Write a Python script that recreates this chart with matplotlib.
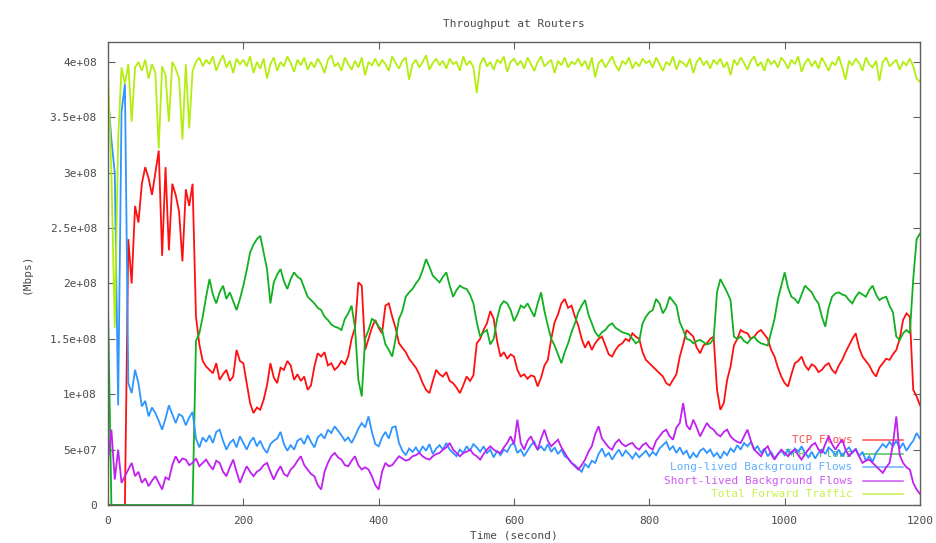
import numpy as np
import matplotlib
matplotlib.use("Agg")
import matplotlib.pyplot as plt

# Sampling grid: one reading every 5 seconds, 0..1200 s
time_s = np.arange(0, 1201, 5)

# Throughput series, in units of 1e6 (scaled to absolute values when plotted)
tcp_flows = [
    0, 0, 0, 0, 0, 0, 240, 200, 270, 255, 290, 305, 295, 280, 300, 320, 225, 305, 230, 290,
    280, 265, 220, 285, 270, 290, 170, 145, 130, 125, 122, 119, 128, 113, 118, 122, 112, 116, 140, 130,
    128, 110, 92, 83, 88, 86, 95, 108, 128, 115, 110, 124, 122, 130, 126, 113, 118, 112, 116, 104,
    108, 125, 137, 134, 138, 126, 128, 122, 125, 130, 127, 134, 150, 160, 201, 198, 140, 150, 160, 167,
    160, 155, 180, 182, 170, 160, 146, 142, 138, 132, 128, 124, 118, 110, 104, 101, 112, 122, 118, 116,
    120, 112, 110, 106, 101, 108, 116, 112, 117, 146, 150, 158, 164, 175, 168, 148, 134, 138, 132, 136,
    134, 122, 116, 118, 114, 117, 116, 107, 115, 126, 131, 150, 165, 172, 182, 186, 178, 180, 170, 162,
    150, 142, 148, 140, 146, 150, 152, 144, 136, 134, 140, 144, 146, 150, 148, 155, 152, 150, 138, 131,
    128, 125, 122, 119, 116, 110, 108, 113, 118, 134, 145, 158, 155, 152, 142, 137, 144, 146, 150, 152,
    104, 86, 92, 113, 125, 144, 150, 158, 156, 155, 150, 152, 156, 158, 154, 150, 140, 134, 124, 116,
    110, 107, 118, 128, 130, 134, 126, 122, 127, 125, 120, 122, 126, 128, 122, 119, 126, 131, 138, 144,
    150, 155, 142, 134, 130, 126, 120, 116, 124, 128, 132, 131, 136, 140, 150, 167, 173, 170, 104, 98,
    90,
]

tfrc_flows = [
    180, 0, 0, 0, 0, 0, 0, 0, 0, 0, 0, 0, 0, 0, 0, 0, 0, 0, 0, 0,
    0, 0, 0, 0, 0, 0, 148, 155, 170, 188, 204, 190, 182, 192, 198, 186, 192, 184, 176, 186,
    198, 212, 228, 235, 240, 243, 228, 213, 182, 201, 208, 213, 202, 195, 204, 210, 206, 204, 196, 188,
    185, 182, 178, 176, 170, 167, 163, 161, 160, 158, 168, 173, 180, 160, 113, 98, 150, 158, 168, 166,
    161, 158, 145, 140, 134, 150, 168, 175, 188, 192, 195, 200, 204, 212, 222, 215, 207, 204, 201, 206,
    210, 198, 188, 194, 198, 196, 195, 190, 182, 165, 152, 156, 158, 145, 150, 168, 180, 184, 182, 176,
    166, 172, 180, 178, 182, 176, 170, 182, 192, 175, 162, 150, 144, 136, 128, 138, 146, 156, 164, 174,
    180, 185, 172, 164, 156, 152, 156, 158, 162, 164, 160, 158, 156, 155, 154, 150, 146, 148, 164, 170,
    174, 176, 186, 182, 173, 178, 188, 184, 180, 165, 158, 150, 149, 146, 148, 149, 147, 145, 146, 150,
    192, 204, 198, 192, 185, 152, 150, 152, 148, 146, 150, 152, 148, 146, 145, 144, 156, 168, 186, 198,
    210, 196, 188, 186, 182, 190, 198, 195, 192, 186, 182, 170, 161, 178, 188, 191, 192, 190, 189, 185,
    182, 188, 192, 190, 188, 194, 198, 190, 185, 187, 188, 180, 174, 152, 149, 155, 158, 155, 204, 240,
    245,
]

long_lived_bg = [
    370, 330, 300, 90, 355, 380, 110, 101, 122, 110, 89, 94, 80, 88, 83, 76, 68, 78, 90, 82,
    74, 82, 80, 72, 79, 84, 60, 52, 61, 57, 63, 56, 66, 68, 58, 50, 56, 59, 52, 62,
    56, 50, 57, 61, 53, 58, 51, 47, 55, 58, 60, 66, 55, 49, 54, 50, 58, 60, 55, 63,
    57, 52, 61, 64, 60, 68, 65, 71, 67, 63, 58, 61, 56, 62, 69, 74, 70, 80, 66, 55,
    53, 61, 66, 60, 70, 71, 56, 49, 45, 51, 48, 52, 47, 53, 49, 55, 46, 51, 54, 50,
    56, 50, 47, 44, 50, 47, 53, 49, 55, 52, 48, 53, 47, 50, 43, 49, 45, 50, 48, 54,
    56, 47, 50, 44, 49, 54, 57, 50, 53, 49, 55, 48, 52, 46, 50, 44, 42, 38, 36, 33,
    30, 37, 34, 40, 38, 46, 51, 44, 47, 41, 46, 50, 44, 49, 46, 42, 47, 43, 46, 49,
    44, 48, 45, 51, 54, 57, 50, 53, 47, 52, 46, 49, 42, 47, 43, 49, 51, 47, 50, 44,
    47, 42, 48, 45, 51, 48, 54, 50, 56, 53, 57, 50, 53, 47, 51, 44, 48, 42, 46, 49,
    45, 50, 46, 51, 48, 53, 47, 43, 48, 42, 47, 50, 46, 52, 49, 45, 50, 44, 49, 52,
    47, 51, 44, 48, 40, 44, 39, 47, 51, 55, 52, 57, 53, 58, 51, 56, 49, 54, 58, 65,
    60,
]

short_lived_bg = [
    40, 68, 23, 50, 20, 26, 32, 38, 26, 30, 20, 24, 17, 22, 26, 20, 14, 25, 23, 36,
    44, 38, 42, 41, 36, 38, 42, 35, 38, 41, 36, 32, 40, 38, 30, 26, 34, 41, 30, 20,
    28, 35, 30, 26, 30, 32, 36, 38, 30, 23, 30, 35, 28, 26, 32, 35, 40, 44, 36, 32,
    28, 26, 18, 14, 30, 38, 44, 47, 43, 41, 36, 35, 40, 44, 36, 32, 34, 32, 26, 18,
    14, 30, 38, 35, 36, 40, 44, 42, 40, 41, 44, 45, 47, 44, 42, 41, 44, 46, 47, 50,
    52, 56, 50, 47, 44, 47, 48, 50, 46, 44, 41, 46, 50, 53, 50, 48, 47, 52, 56, 62,
    55, 77, 56, 50, 58, 62, 55, 50, 60, 68, 58, 53, 56, 59, 52, 47, 42, 38, 35, 32,
    36, 41, 48, 53, 64, 71, 60, 56, 52, 50, 56, 59, 55, 53, 55, 56, 52, 50, 54, 56,
    52, 50, 58, 62, 66, 68, 62, 59, 70, 74, 92, 72, 68, 77, 70, 62, 68, 74, 70, 68,
    64, 62, 66, 68, 62, 59, 57, 56, 62, 68, 58, 50, 47, 44, 50, 53, 46, 41, 46, 50,
    47, 44, 48, 50, 45, 41, 46, 50, 54, 56, 50, 47, 55, 62, 55, 50, 55, 59, 50, 44,
    48, 50, 44, 38, 40, 41, 38, 35, 32, 29, 34, 38, 55, 80, 45, 38, 34, 32, 20, 14,
    10,
]

total_forward = [
    390, 300, 160, 330, 395, 380, 398, 346, 395, 400, 392, 402, 385, 398, 390, 322, 396, 388, 346, 400,
    394, 385, 330, 398, 340, 392, 400, 404, 396, 402, 398, 405, 392, 400, 406, 395, 401, 390, 403, 398,
    402, 396, 405, 390, 400, 394, 403, 385, 398, 404, 392, 400, 396, 405, 399, 391, 402, 397, 404, 393,
    400, 395, 403, 398, 390, 402, 406, 396, 399, 392, 404, 398, 393, 401, 395, 404, 388, 400, 397, 403,
    396, 402, 398, 392, 405, 399, 394, 401, 404, 384, 398, 402, 395, 400, 406, 393, 399, 403, 397, 401,
    394, 403, 398, 400, 392, 405, 397, 401, 395, 372, 398, 404, 396, 400, 393, 402, 399, 405, 391, 400,
    403, 397, 401, 394, 404, 398, 392, 400, 405, 396, 399, 402, 390, 401, 397, 404, 395, 400, 398, 403,
    396, 401, 393, 404, 386, 399, 402, 395, 400, 405, 397, 392, 401, 398, 404, 394, 400, 396, 403, 399,
    401, 395, 404, 398, 392, 400, 397, 405, 393, 401, 399, 396, 403, 390, 400, 404, 397, 401, 394, 402,
    398, 403, 395, 400, 388, 402, 397, 404, 399, 393, 401, 405, 396, 400, 392, 403, 398, 401, 395, 404,
    400, 394, 402, 398, 405, 391, 399, 403, 396, 401, 394, 404, 398, 392, 400, 397, 405, 395, 384, 401,
    397, 403, 399, 392, 404, 398, 395, 401, 383, 400, 404, 396, 399, 402, 393, 400, 397, 403, 396, 385,
    382,
]

series_labels = [
    "TCP Flows",
    "TFRC Flows",
    "Long-lived Background Flows",
    "Short-lived Background Flows",
    "Total Forward Traffic",
]
series_values = [tcp_flows, tfrc_flows, long_lived_bg, short_lived_bg, total_forward]
series_colors = ["#ff1010", "#10b020", "#2f95ff", "#c020f0", "#b4ee10"]

y_ticks = [0, 5e7, 1e8, 1.5e8, 2e8, 2.5e8, 3e8, 3.5e8, 4e8]
y_tick_labels = ["0", "5e+07", "1e+08", "1.5e+08", "2e+08", "2.5e+08", "3e+08", "3.5e+08", "4e+08"]
x_ticks = [0, 200, 400, 600, 800, 1000, 1200]
x_tick_labels = ["0", "200", "400", "600", "800", "1000", "1200"]

TEXT_FONT = "DejaVu Sans Mono"
TEXT_COLOR = "#4a4a4a"
FRAME_COLOR = "#606060"

fig = plt.figure(figsize=(9.37, 5.43), dpi=100)
ax = fig.add_axes([108 / 937, 1 - 505 / 543, 812 / 937, 463 / 543])

for values, color in zip(series_values, series_colors):
    ax.plot(time_s, np.asarray(values, dtype=float) * 1e6, color=color,
            linewidth=1.3, zorder=2, solid_joinstyle="miter")

ax.set_xlim(0, 1200)
ax.set_ylim(0, 4.18e8)
ax.set_xticks(x_ticks)
ax.set_xticklabels(x_tick_labels)
ax.set_yticks(y_ticks)
ax.set_yticklabels(y_tick_labels)

ax.tick_params(direction="in", length=5, width=0.8, color=FRAME_COLOR,
               top=True, right=True, labelsize=8, labelcolor=TEXT_COLOR, pad=8)
for lab in ax.get_xticklabels() + ax.get_yticklabels():
    lab.set_fontfamily(TEXT_FONT)
for spine in ax.spines.values():
    spine.set_color(FRAME_COLOR)
    spine.set_linewidth(1.0)

ax.set_title("Throughput at Routers", fontfamily=TEXT_FONT, fontsize=8,
             color=TEXT_COLOR, pad=11)
ax.set_xlabel("Time (second)", fontfamily=TEXT_FONT, fontsize=8,
              color=TEXT_COLOR, labelpad=3)
ax.set_ylabel("(Mbps)", fontfamily=TEXT_FONT, fontsize=8,
              color=TEXT_COLOR, labelpad=13)

# Key in the lower-right corner, drawn beneath the curves
key_text_x = 0.917
key_line = (0.930, 0.979)
key_top = 0.140
key_step = 0.0292
for i, (label, color) in enumerate(zip(series_labels, series_colors)):
    yk = key_top - i * key_step
    ax.text(key_text_x, yk, label, transform=ax.transAxes, ha="right", va="center",
            fontfamily=TEXT_FONT, fontsize=8, color=color, alpha=0.75, zorder=1)
    ax.plot(key_line, [yk, yk], transform=ax.transAxes, color=color,
            linewidth=1.1, alpha=0.75, zorder=1)

fig.savefig("out.png", dpi=100, facecolor="white")
